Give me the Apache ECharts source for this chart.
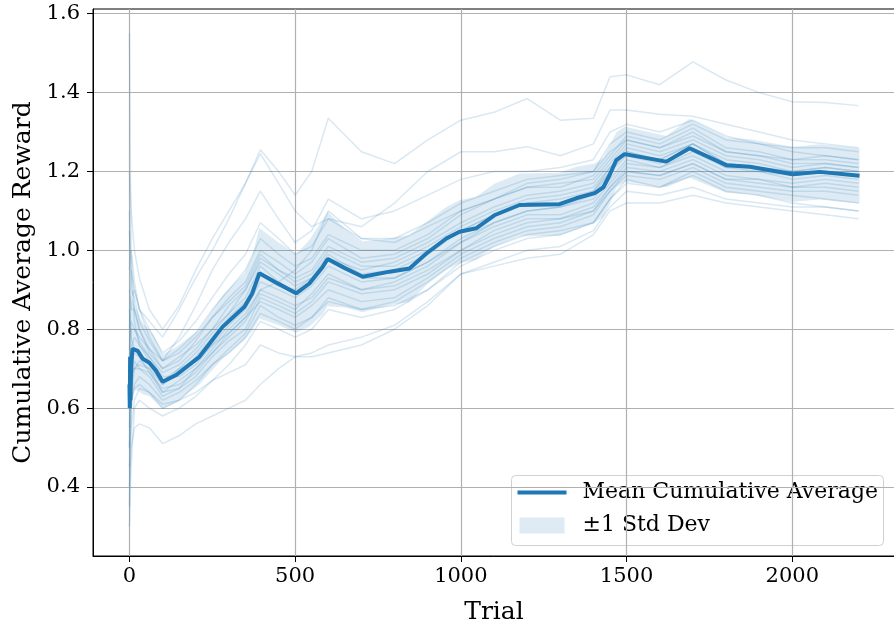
<!DOCTYPE html>
<html>
<head>
<meta charset="utf-8">
<script src="https://cdn.jsdelivr.net/npm/echarts@6/dist/echarts.min.js"></script>
<style>
  html, body { margin: 0; padding: 0; background: #fff; }
  #main { width: 894px; height: 624px; }
</style>
</head>
<body>
<div id="main"></div>
<script>
// mean cumulative average and its std
const trials = [0,1,2,3,5,9,13,25,40,60,80,100,141,211,281,347,370,392,450,503,543,583,598,650,704,785,845,896,956,996,1046,1101,1177,1298,1348,1404,1430,1449,1469,1494,1620,1690,1801,1872,2002,2083,2203];
const meanVals = [0.66,0.60,0.73,0.62,0.70,0.75,0.755,0.745,0.725,0.715,0.695,0.667,0.684,0.730,0.806,0.857,0.89,0.942,0.915,0.891,0.916,0.958,0.978,0.955,0.933,0.946,0.954,0.992,1.030,1.047,1.056,1.089,1.115,1.117,1.132,1.145,1.16,1.191,1.229,1.244,1.225,1.259,1.216,1.212,1.193,1.199,1.189];
const stdVals = [0.30,0.25,0.22,0.20,0.17,0.13,0.11,0.10,0.09,0.085,0.08,0.07,0.07,0.07,0.08,0.085,0.095,0.115,0.105,0.10,0.11,0.12,0.12,0.10,0.09,0.085,0.085,0.08,0.08,0.08,0.08,0.08,0.08,0.08,0.08,0.075,0.075,0.075,0.07,0.07,0.065,0.075,0.07,0.07,0.07,0.07,0.07];

// individual runs (faint lines)
const runX = [0,5,15,30,60,100,150,200,250,300,350,395,450,500,550,600,700,800,900,1000,1100,1200,1300,1400,1450,1500,1600,1700,1800,1900,2000,2100,2200];
const run01 = [0.72,0.95,0.9,0.85,0.82,0.78,0.85,0.93,1.0,1.08,1.17,1.255,1.2,1.14,1.2,1.335,1.25,1.22,1.28,1.33,1.35,1.385,1.33,1.335,1.44,1.445,1.42,1.478,1.432,1.40,1.377,1.375,1.367];
const run02 = [1.2,1.1,1.0,0.93,0.85,0.8,0.86,0.95,1.03,1.1,1.17,1.245,1.17,1.1,1.06,1.08,1.06,1.12,1.2,1.25,1.25,1.263,1.24,1.27,1.356,1.356,1.345,1.34,1.32,1.30,1.28,1.27,1.26];
const run03 = [0.95,1.0,0.92,0.85,0.78,0.72,0.78,0.86,0.95,1.02,1.08,1.15,1.08,1.02,1.05,1.13,1.08,1.1,1.14,1.18,1.2,1.2,1.21,1.23,1.3,1.32,1.3,1.33,1.29,1.27,1.25,1.24,1.23];
const run04 = [0.4,0.5,0.55,0.56,0.55,0.51,0.53,0.56,0.58,0.6,0.62,0.66,0.7,0.73,0.74,0.76,0.78,0.81,0.87,0.94,0.96,0.98,0.99,1.04,1.1,1.12,1.12,1.14,1.12,1.11,1.1,1.09,1.08];
const run05 = [0.3,0.45,0.6,0.62,0.6,0.58,0.6,0.63,0.67,0.71,0.76,0.82,0.8,0.78,0.8,0.85,0.83,0.85,0.9,0.96,1.0,1.03,1.04,1.07,1.13,1.17,1.16,1.19,1.15,1.14,1.12,1.11,1.1];
const run06 = [0.5,0.8,0.8,0.78,0.75,0.7,0.72,0.77,0.83,0.88,0.92,1.0,0.97,0.94,0.97,1.03,0.98,0.99,1.03,1.09,1.13,1.16,1.16,1.19,1.24,1.29,1.27,1.31,1.26,1.25,1.23,1.24,1.23];
const run07 = [0.7,0.65,0.72,0.7,0.68,0.63,0.65,0.68,0.73,0.77,0.8,0.88,0.86,0.84,0.87,0.92,0.89,0.9,0.94,1.0,1.04,1.07,1.08,1.1,1.15,1.2,1.19,1.22,1.18,1.17,1.16,1.17,1.16];
const run08 = [0.9,0.85,0.85,0.8,0.74,0.7,0.73,0.76,0.8,0.84,0.9,0.97,0.94,0.91,0.93,0.98,0.95,0.97,1.01,1.06,1.1,1.13,1.14,1.16,1.21,1.26,1.24,1.27,1.23,1.22,1.2,1.21,1.2];
const run09 = [0.55,0.7,0.7,0.72,0.7,0.66,0.7,0.72,0.76,0.79,0.83,0.9,0.88,0.86,0.88,0.93,0.9,0.92,0.96,1.02,1.06,1.09,1.09,1.12,1.17,1.22,1.21,1.24,1.2,1.2,1.18,1.19,1.18];
const run10 = [1.05,0.95,0.82,0.76,0.72,0.67,0.7,0.74,0.79,0.84,0.88,0.96,0.92,0.89,0.92,0.98,0.93,0.93,0.97,1.03,1.07,1.1,1.11,1.14,1.2,1.24,1.22,1.26,1.21,1.2,1.19,1.2,1.19];
const run11 = [0.6,0.6,0.65,0.66,0.64,0.6,0.62,0.64,0.67,0.69,0.71,0.76,0.74,0.73,0.73,0.74,0.76,0.8,0.86,0.94,0.97,1.0,1.01,1.05,1.11,1.15,1.14,1.16,1.13,1.12,1.11,1.11,1.1];
const run12 = [0.8,0.88,0.9,0.85,0.8,0.74,0.77,0.82,0.88,0.94,0.99,1.07,1.03,0.99,1.01,1.08,1.03,1.03,1.07,1.12,1.15,1.18,1.19,1.2,1.27,1.3,1.28,1.32,1.28,1.27,1.26,1.26,1.25];
const run13 = [0.65,0.75,0.78,0.76,0.73,0.68,0.68,0.71,0.76,0.81,0.85,0.92,0.9,0.88,0.91,0.96,0.92,0.93,0.97,1.02,1.07,1.1,1.11,1.13,1.18,1.23,1.21,1.25,1.21,1.21,1.19,1.2,1.19];
const run14 = [0.5,0.62,0.7,0.7,0.69,0.64,0.67,0.7,0.75,0.8,0.84,0.9,0.92,0.95,1.0,1.1,1.03,1.02,1.06,1.1,1.13,1.17,1.18,1.2,1.25,1.28,1.26,1.29,1.25,1.24,1.22,1.22,1.21];
const run15 = [1.55,1.0,0.85,0.8,0.75,0.72,0.74,0.78,0.83,0.87,0.91,0.99,0.95,0.92,0.94,1.0,0.96,0.96,1.0,1.05,1.09,1.12,1.13,1.15,1.2,1.25,1.23,1.27,1.22,1.21,1.2,1.21,1.2];
const run16 = [0.45,0.55,0.62,0.65,0.64,0.61,0.62,0.66,0.71,0.75,0.79,0.86,0.83,0.81,0.83,0.88,0.85,0.86,0.9,0.97,1.01,1.04,1.05,1.07,1.13,1.18,1.16,1.2,1.16,1.15,1.14,1.13,1.12];
const run17 = [0.85,0.78,0.75,0.74,0.71,0.66,0.69,0.73,0.78,0.83,0.87,0.94,0.91,0.9,0.93,0.99,0.94,0.95,0.99,1.05,1.09,1.12,1.12,1.15,1.21,1.25,1.23,1.27,1.22,1.21,1.2,1.2,1.19];
const run18 = [0.6,0.72,0.74,0.73,0.69,0.65,0.66,0.69,0.74,0.78,0.82,0.89,0.87,0.85,0.89,0.94,0.9,0.91,0.95,1.0,1.05,1.08,1.08,1.11,1.16,1.21,1.2,1.23,1.19,1.18,1.17,1.18,1.17];
const run19 = [1.1,0.9,0.88,0.82,0.77,0.72,0.75,0.79,0.85,0.9,0.95,1.03,0.99,0.96,0.98,1.04,1.0,1.0,1.04,1.1,1.13,1.16,1.17,1.18,1.23,1.28,1.26,1.3,1.25,1.24,1.23,1.23,1.22];
const run20 = [0.35,0.6,0.66,0.68,0.66,0.62,0.64,0.67,0.71,0.74,0.78,0.84,0.82,0.8,0.83,0.87,0.85,0.87,0.92,0.98,1.02,1.05,1.06,1.09,1.15,1.19,1.18,1.21,1.17,1.16,1.15,1.15,1.14];
const run21 = [0.75,0.82,0.8,0.77,0.73,0.69,0.71,0.75,0.8,0.86,0.9,0.98,0.95,0.93,0.95,1.01,0.97,0.98,1.02,1.07,1.11,1.14,1.15,1.17,1.22,1.27,1.25,1.28,1.24,1.23,1.21,1.22,1.21];
const run22 = [0.65,0.68,0.7,0.71,0.7,0.64,0.65,0.7,0.74,0.79,0.83,0.87,0.85,0.83,0.86,0.9,0.87,0.88,0.93,0.99,1.03,1.06,1.07,1.1,1.16,1.2,1.19,1.22,1.18,1.18,1.16,1.16,1.15];
const runs = [run01,run02,run03,run04,run05,run06,run07,run08,run09,run10,run11,run12,run13,run14,run15,run16,run17,run18,run19,run20,run21,run22];

const xTicks = [0, 500, 1000, 1500, 2000];
const yTicks = [0.4, 0.6, 0.8, 1.0, 1.2, 1.4, 1.6];

const blue = '#1f77b4';
const font = 'DejaVu Serif';

const pairs = (xs, ys) => xs.map((x, i) => [x, ys[i]]);

let series = runs.map(r => ({
  type: 'line',
  data: pairs(runX, r),
  symbol: 'none',
  silent: true,
  lineStyle: { color: blue, width: 1.5, opacity: 0.17 }
}));

// ±1 std band
series.push({
  type: 'custom',
  silent: true,
  data: [0],
  renderItem: function (params, api) {
    var up = trials.map((t, i) => api.coord([t, meanVals[i] + stdVals[i]]));
    var lo = trials.map((t, i) => api.coord([t, meanVals[i] - stdVals[i]])).reverse();
    return {
      type: 'polygon',
      shape: { points: up.concat(lo) },
      style: { fill: blue, opacity: 0.15 }
    };
  }
});

series.push({
  type: 'line',
  name: 'Mean Cumulative Average',
  data: pairs(trials, meanVals),
  symbol: 'none',
  lineStyle: { color: blue, width: 4 },
  z: 5
});

var chart = echarts.init(document.getElementById('main'));
chart.setOption({
  animation: false,
  grid: { left: 93, top: 9, width: 802, height: 547, outerBoundsMode: 'none', containLabel: false,
    show: true, borderColor: '#000', borderWidth: 1 },
  xAxis: {
    type: 'value',
    min: -110, max: 2310,
    name: 'Trial',
    nameLocation: 'middle',
    nameGap: 44,
    nameTextStyle: { fontFamily: font, fontSize: 25, color: '#000' },
    axisLine: { show: true, onZero: false, lineStyle: { color: '#000', width: 1 } },
    axisTick: { show: true, length: 6, customValues: xTicks, lineStyle: { color: '#000' } },
    axisLabel: { customValues: xTicks, fontFamily: font, fontSize: 21, color: '#000', margin: 10,
      formatter: v => String(v) },
    splitLine: { show: true, lineStyle: { color: '#b0b0b0', width: 1.2 } }
  },
  yAxis: {
    type: 'value',
    min: 0.225, max: 1.612,
    name: 'Cumulative Average Reward',
    nameLocation: 'middle',
    nameGap: 54,
    nameTextStyle: { fontFamily: font, fontSize: 25, color: '#000' },
    axisLine: { show: true, onZero: false, lineStyle: { color: '#000', width: 1 } },
    axisTick: { show: true, length: 6, customValues: yTicks, lineStyle: { color: '#000' } },
    axisLabel: { customValues: yTicks, fontFamily: font, fontSize: 21, color: '#000', margin: 13,
      formatter: v => v.toFixed(1) },
    splitLine: { show: true, lineStyle: { color: '#b0b0b0', width: 1.2 } }
  },
  series: series,
  graphic: [{
    type: 'group',
    left: 511, top: 475,
    children: [
      { type: 'rect', shape: { x: 0, y: 0, width: 372, height: 70, r: 4 },
        style: { fill: 'rgba(255,255,255,0.8)', stroke: '#d0d0d0', lineWidth: 1 } },
      { type: 'line', shape: { x1: 6, y1: 17, x2: 55, y2: 17 }, style: { stroke: blue, lineWidth: 4 } },
      { type: 'rect', shape: { x: 8, y: 42, width: 45, height: 16 }, style: { fill: 'rgba(31,119,180,0.15)' } },
      { type: 'text', x: 71, y: 17, style: { text: 'Mean Cumulative Average', font: '22px "DejaVu Serif"', fill: '#000', verticalAlign: 'middle' } },
      { type: 'text', x: 71, y: 50, style: { text: '±1 Std Dev', font: '22px "DejaVu Serif"', fill: '#000', verticalAlign: 'middle' } }
    ]
  }]
});
</script>
</body>
</html>
